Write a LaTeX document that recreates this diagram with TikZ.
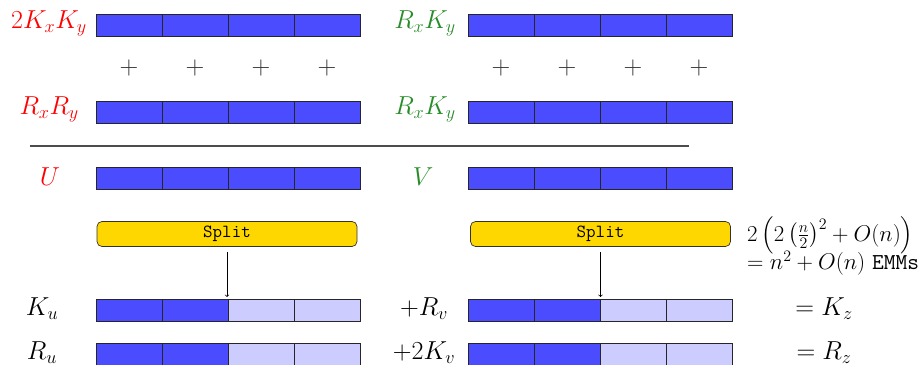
\RequirePackage{fix-cm}
\documentclass[tikz,border=0pt]{standalone}
\usepackage{amsmath}
\usepackage{fontspec}
\definecolor{lblgreen}{RGB}{40,140,40}
\definecolor{splitfill}{RGB}{255,215,0}
\tikzset{
  cell/.style={draw=black!85, line width=0.9pt, minimum width=66pt, minimum height=22pt, inner sep=0pt, outer sep=0pt},
  dark/.style={cell, fill=blue!70},
  light/.style={cell, fill=blue!20},
  lbl/.style={inner sep=0pt, font=\fontsize{26}{31}\selectfont},
  plus/.style={inner sep=0pt, text=black!80, font=\fontsize{26}{31}\selectfont},
  splitbox/.style={draw=black!80, line width=0.7pt, fill=splitfill, rounded corners=5pt, minimum width=260pt, minimum height=25pt, inner sep=0pt, font=\fontsize{18.5}{22}\selectfont\ttfamily},
}
\newcommand\fullrow[3]{%
  \node[dark] (#1a) at (#2+33,#3) {};
  \node[dark] (#1b) at (#2+99,#3) {};
  \node[dark] (#1c) at (#2+165,#3) {};
  \node[dark] (#1d) at (#2+231,#3) {};}
\newcommand\halfrow[3]{%
  \node[dark] (#1a) at (#2+33,#3) {};
  \node[dark] (#1b) at (#2+99,#3) {};
  \node[light] (#1c) at (#2+165,#3) {};
  \node[light] (#1d) at (#2+231,#3) {};}
\begin{document}
\begin{tikzpicture}[x=1pt,y=-1pt]
\useasboundingbox (0,0) rectangle (920,364);
\clip (0,0) rectangle (920,364);
% bars
\fullrow{LA}{96}{25}
\fullrow{LB}{96}{112}
\fullrow{LU}{96}{178}
\halfrow{LK}{96}{310}
\halfrow{LR}{96}{354}
\fullrow{RA}{468}{25}
\fullrow{RB}{468}{112}
\fullrow{RV}{468}{178}
\halfrow{RK}{468}{310}
\halfrow{RR}{468}{354}
% plus signs
\foreach \n in {a,b,c,d}{
  \node[plus] (pl\n) at (LA\n |- 0,68) {$+$};
  \node[plus] (pr\n) at (RA\n |- 0,68) {$+$};
}
% labels
\node[lbl, text=red, anchor=east] (l1) at (87,23) {$2K_xK_y$};
\node[lbl, text=lblgreen, anchor=east] (l2) at (456,23) {$R_xK_y$};
\node[lbl, text=red, anchor=east] (l3) at (79,109.5) {$R_xR_y$};
\node[lbl, text=lblgreen, anchor=east] (l4) at (456,109.5) {$R_xK_y$};
\node[lbl, text=red] (lu) at (50,176.5) {$U$};
\node[lbl, text=lblgreen] (lv) at (423,176.5) {$V$};
\node[lbl] (lku) at (42,308.5) {$K_u$};
\node[lbl] (lru) at (42,352.5) {$R_u$};
\node[lbl] (lrv) at (424,308.5) {$+R_v$};
\node[lbl] (lkv) at (424,352.5) {$+2K_v$};
\node[lbl] (lkz) at (824,309) {$=K_z$};
\node[lbl] (lrz) at (824,353) {$=R_z$};
% rule
\coordinate (h1) at (30,146);
\coordinate (h2) at (689,146);
\draw[black!70, line width=1.2pt] (h1) -- (h2);
% split boxes
\node[splitbox] (splitL) at (227,234) {Split};
\node[splitbox] (splitR) at (600.5,234) {Split};
\draw[->, line width=0.7pt, shorten <=5pt, shorten >=2pt] (splitL.south) -- (splitL.south |- LKb.north);
\draw[->, line width=0.7pt, shorten <=5pt, shorten >=2pt] (splitR.south) -- (splitR.south |- RKb.north);
% formula
\node[inner sep=0pt, anchor=west, align=left, font=\fontsize{22.8}{25}\selectfont] (form) at (747,246)
  {$2\left(2\left(\frac{n}{2}\right)^2+O(n)\right)$\\[-4pt]$=n^2+O(n)$ \texttt{EMMs}};
\end{tikzpicture}
\end{document}
